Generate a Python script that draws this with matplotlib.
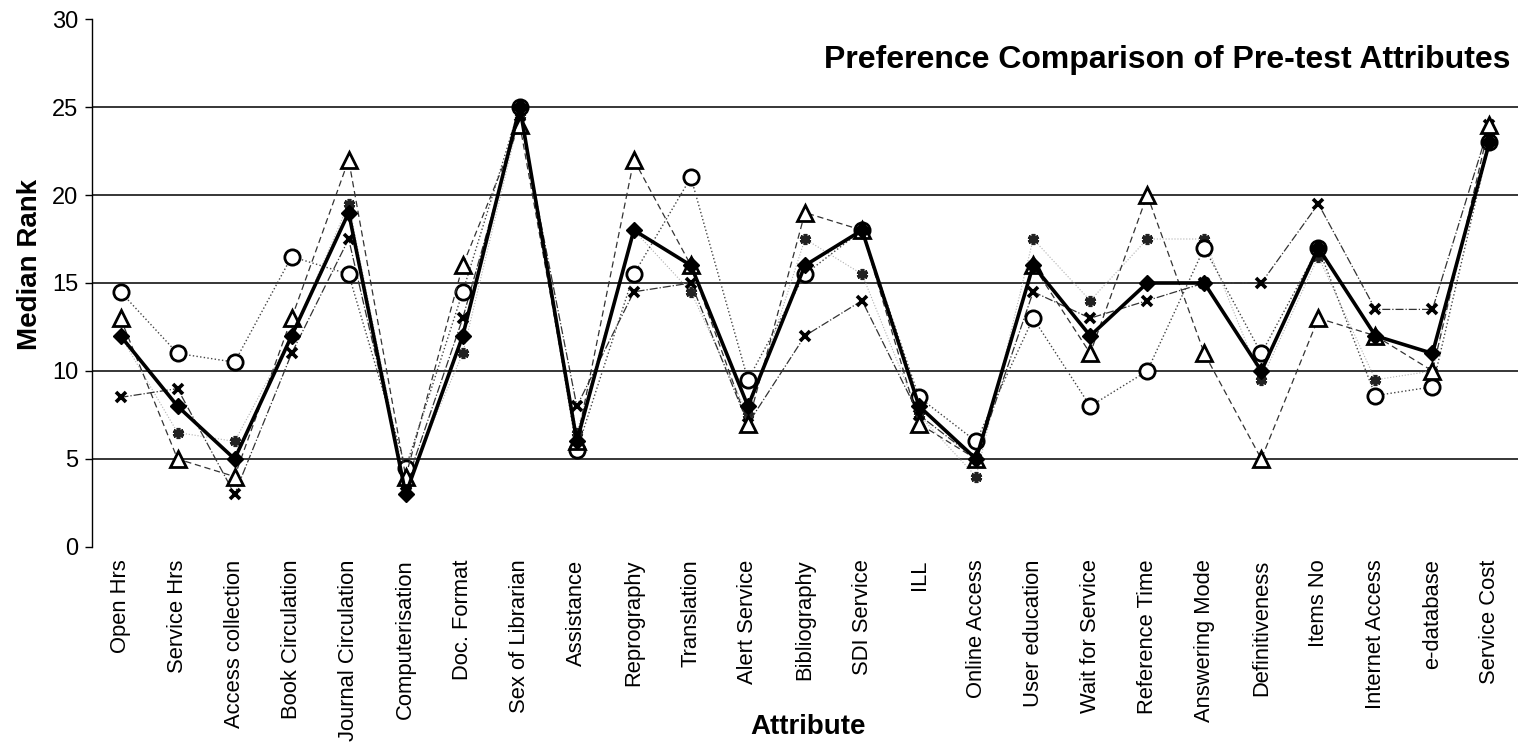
import matplotlib
matplotlib.use("Agg")
import matplotlib.pyplot as plt
import numpy as np

plt.rcParams['font.family'] = ['Liberation Sans', 'DejaVu Sans']

attributes = ["Open Hrs", "Service Hrs", "Access collection", "Book Circulation",
              "Journal Circulation", "Computerisation", "Doc. Format", "Sex of Librarian",
              "Assistance", "Reprography", "Translation", "Alert Service", "Bibliography",
              "SDI Service", "ILL", "Online Access", "User education", "Wait for Service",
              "Reference Time", "Answering Mode", "Definitiveness", "Items No",
              "Internet Access", "e-database", "Service Cost"]

# median ranks
overall = [12, 8, 5, 12, 19, 3, 12, 25, 6, 18, 16, 8, 16, 18, 8, 5, 16, 12, 15, 15, 10, 17, 12, 11, 23]
circle_grp = [14.5, 11, 10.5, 16.5, 15.5, 4.5, 14.5, 25, 5.5, 15.5, 21, 9.5, 15.5, 18, 8.5, 6,
              13, 8, 10, 17, 11, 17, 8.6, 9.1, 23]
triangle_grp = [13, 5, 4, 13, 22, 4, 16, 24, 6, 22, 16, 7, 19, 18, 7, 5, 16, 11, 20, 11, 5, 13,
                12, 10, 24]
cross_grp = [8.5, 9, 3, 11, 17.5, 3.5, 13, 24.5, 8, 14.5, 15, 7, 12, 14, 7.5, 5, 14.5, 13, 14,
             15, 15, 19.5, 13.5, 13.5, 24]
star_grp = [12, 6.5, 6, 12, 19.5, 3.5, 11, 24.5, 6.5, 18, 14.5, 7.5, 17.5, 15.5, 7.5, 4, 17.5,
            14, 17.5, 17.5, 9.5, 16.5, 9.5, 10, 23.5]

x = np.arange(len(attributes))

fig = plt.figure(figsize=(15.18, 7.46), dpi=100)
ax = fig.add_axes([0.0606, 0.2668, 0.9394, 0.7077])

for yv in [5, 10, 15, 20, 25]:
    ax.axhline(yv, color="black", lw=1.1, zorder=1)

ax.plot(x, star_grp, color="#b0b0b0", lw=0.8, ls=":", marker=(6, 2, 0), ms=8, mew=2.6,
        mec="#222222", zorder=2)
ax.plot(x, cross_grp, color="#333333", lw=0.9, ls="-.", marker="x", ms=7, mew=2.6,
        mec="black", zorder=3)
ax.plot(x, circle_grp, color="#444444", lw=1.0, ls=":", marker="o", ms=11, mew=2,
        mfc="white", mec="black", zorder=4)
ax.plot(x, triangle_grp, color="#333333", lw=0.9, ls=(0, (5, 3)), marker="^", ms=12, mew=2,
        mfc="white", mec="black", zorder=5)
ax.plot(x, overall, color="black", lw=2.6, marker="D", ms=8, mfc="black", mec="black", zorder=6)

ax.set_xlim(-0.5, len(attributes) - 0.5)
ax.set_ylim(0, 30)
ax.set_yticks([0, 5, 10, 15, 20, 25, 30])
ax.set_xticks(x)
ax.set_xticklabels(attributes, rotation=90, fontsize=15.8)
ax.tick_params(axis="y", labelsize=17, length=5, width=1, pad=5)
ax.tick_params(axis="x", length=0, pad=9)

for s in ["top", "right", "bottom"]:
    ax.spines[s].set_visible(False)
ax.spines["left"].set_linewidth(1)

fig.text(0.02, 0.645, "Median Rank", fontsize=20, fontweight="bold", rotation=90,
         ha="center", va="center")
fig.text(0.532, 0.025, "Attribute", fontsize=20, fontweight="bold", ha="center", va="center")
ax.text(0.995, 0.923, "Preference Comparison of Pre-test Attributes", transform=ax.transAxes,
        fontsize=23, fontweight="bold", ha="right", va="center")

fig.savefig("out.png", dpi=100)
